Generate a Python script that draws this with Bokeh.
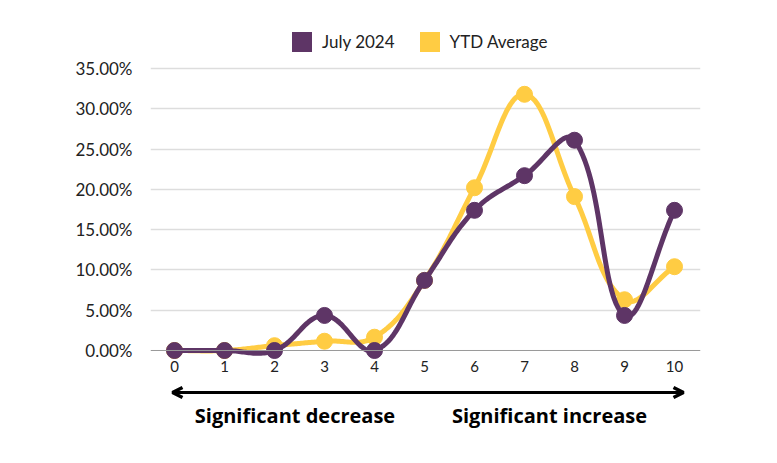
import numpy as np
from bokeh.core.properties import value
from bokeh.embed import file_html
from bokeh.models import Arrow, FixedTicker, Label, Legend, LegendItem, OpenHead, Span
from bokeh.plotting import figure
from bokeh.resources import INLINE

scores = [0, 1, 2, 3, 4, 5, 6, 7, 8, 9, 10]
july_2024 = [0.0, 0.0, 0.0, 4.35, 0.0, 8.7, 17.4, 21.7, 26.1, 4.35, 17.4]
ytd_average = [0.0, 0.0, 0.6, 1.15, 1.65, 8.7, 20.2, 31.8, 19.1, 6.3, 10.4]
y_ticks = [0, 5, 10, 15, 20, 25, 30, 35]
series_names = ["July 2024", "YTD Average"]
captions = ["Significant decrease", "Significant increase"]

PURPLE = "#5E3566"
YELLOW = "#FFCC43"
FONT = "Lato"
NAN = float("nan")


def smooth(xs, ys, tension=0.4, aspect=0.161, steps=30):
    # tension spline through the points (control points scaled by neighbour distance)
    pts = np.column_stack([np.asarray(xs, float), np.asarray(ys, float)])
    n = len(pts)
    cin, cout = [], []
    for i in range(n):
        prev = pts[max(i - 1, 0)]
        nxt = pts[min(i + 1, n - 1)]
        cur = pts[i]
        d01 = np.hypot(cur[0] - prev[0], (cur[1] - prev[1]) * aspect)
        d12 = np.hypot(nxt[0] - cur[0], (nxt[1] - cur[1]) * aspect)
        tot = d01 + d12 if d01 + d12 > 0 else 1.0
        fa, fb = tension * d01 / tot, tension * d12 / tot
        cin.append(cur - fa * (nxt - prev))
        cout.append(cur + fb * (nxt - prev))
    t = np.linspace(0, 1, steps, endpoint=False)[:, None]
    segs = []
    for i in range(n - 1):
        p0, p1, p2, p3 = pts[i], cout[i], cin[i + 1], pts[i + 1]
        segs.append((1 - t) ** 3 * p0 + 3 * (1 - t) ** 2 * t * p1
                    + 3 * (1 - t) * t ** 2 * p2 + t ** 3 * p3)
    curve = np.vstack(segs + [pts[-1:]])
    return curve[:, 0].tolist(), curve[:, 1].tolist()


p = figure(width=761, height=447, x_range=(-0.48, 10.52), y_range=(-12.04, 40.96),
           x_axis_location=None, output_backend="svg", toolbar_location=None)
p.min_border_left = 150
p.min_border_right = 61
p.min_border_top = 20
p.min_border_bottom = 0
p.outline_line_color = None

p.xgrid.visible = False
p.ygrid.grid_line_color = "#dddddd"
p.ygrid.grid_line_width = 1.5
p.ygrid.ticker = FixedTicker(ticks=y_ticks[1:])

p.yaxis.ticker = FixedTicker(ticks=y_ticks)
p.yaxis.major_label_overrides = {t: f"{t:.2f}%" for t in y_ticks}
p.yaxis.axis_line_color = None
p.yaxis.major_tick_line_color = None
p.yaxis.minor_tick_line_color = None
p.yaxis.major_label_standoff = 12
p.yaxis.major_label_text_font = FONT
p.yaxis.major_label_text_font_size = "17px"
p.yaxis.major_label_text_color = "#222222"

p.add_layout(Span(location=0, dimension="width", line_color="#999999", line_width=1))

# x tick labels sit just under the zero line
p.text(x=scores, y=[0] * len(scores), text=[str(s) for s in scores], y_offset=16,
       text_align="center", text_baseline="middle", text_font=value(FONT),
       text_font_size="15px", text_color="#222222")

for ys, color in ((ytd_average, YELLOW), (july_2024, PURPLE)):
    sx, sy = smooth(scores, ys)
    p.line(sx, sy, line_color=color, line_width=5, line_join="round", line_cap="round")
    p.scatter(scores, ys, size=16, fill_color=color, line_color=color)

# legend swatches
items = []
for name, color in zip(series_names, (PURPLE, YELLOW)):
    r = p.quad(left=[NAN], right=[NAN], top=[NAN], bottom=[NAN], fill_color=color, line_color=None)
    items.append(LegendItem(label=name, renderers=[r]))
legend = Legend(items=items, orientation="horizontal", location=(139, 393),
                glyph_width=25, glyph_height=25, label_text_font=FONT,
                label_text_font_size="17px", label_text_color="#222222",
                spacing=22, label_standoff=8, border_line_color=None,
                background_fill_alpha=0, padding=0, margin=0)
p.add_layout(legend)

# arrow and captions below the axis
arrow_left, arrow_right, arrow_y = -0.04, 10.18, -5.21
p.add_layout(Arrow(start=OpenHead(size=10, line_width=3.5, line_color="black"),
                   end=OpenHead(size=10, line_width=3.5, line_color="black"),
                   x_start=arrow_left, y_start=arrow_y, x_end=arrow_right, y_end=arrow_y,
                   line_width=3, line_color="black"))
caption_x = [2.41, 7.5]
for text, cx in zip(captions, caption_x):
    p.add_layout(Label(x=cx, y=-8.1, text=text, text_align="center", text_baseline="middle",
                       text_font="Open Sans", text_font_style="bold",
                       text_font_size="20px", text_color="black"))

open("out.html", "w").write(file_html(p, INLINE))
